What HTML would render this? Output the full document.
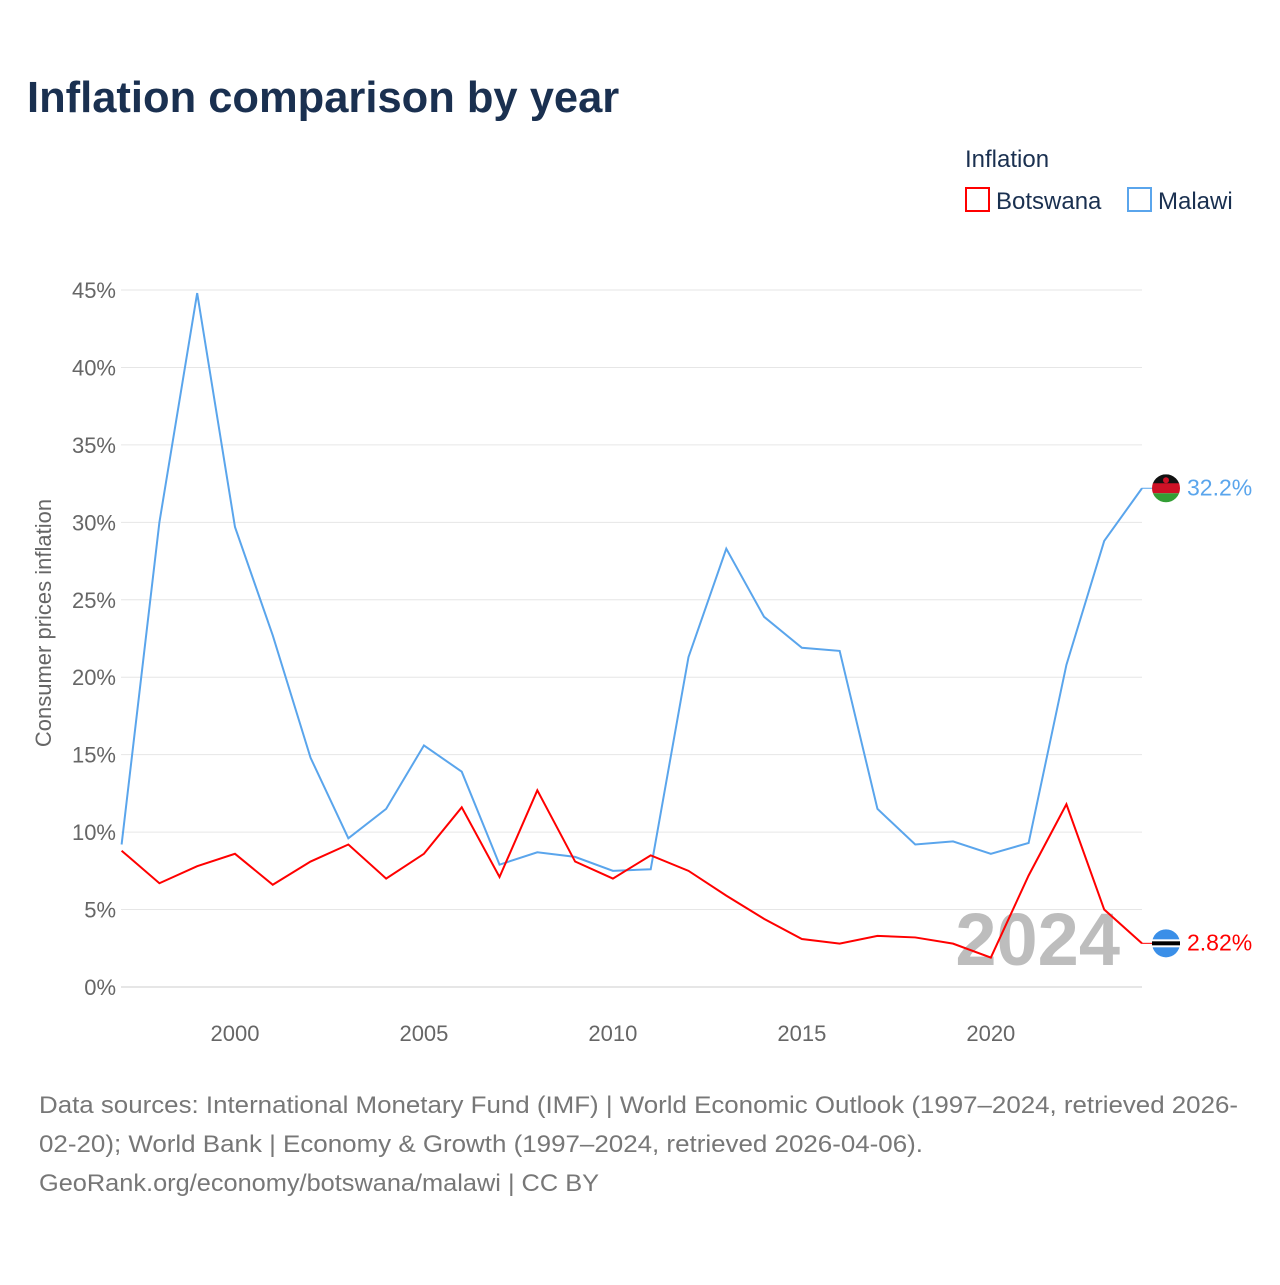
<!DOCTYPE html>
<html><head><meta charset="utf-8"><style>
body{margin:0;background:#fff;font-family:"Liberation Sans",sans-serif;}
</style></head><body>
<svg width="1280" height="1280" xmlns="http://www.w3.org/2000/svg" font-family="Liberation Sans, sans-serif">
<text x="27" y="112" font-size="43.5" font-weight="bold" fill="#1a3050">Inflation comparison by year</text>
<text x="965" y="167" font-size="24" fill="#1a3050">Inflation</text>
<g><rect x="966" y="188" width="23" height="23" fill="none" stroke="#ff0000" stroke-width="2"/><text x="996" y="209" font-size="24" fill="#1a3050">Botswana</text></g>
<g><rect x="1128" y="188" width="23" height="23" fill="none" stroke="#5aa5ec" stroke-width="2"/><text x="1158" y="209" font-size="24" fill="#1a3050">Malawi</text></g>
<g id="grid"></g>
<text x="0" y="0" transform="translate(51,623) rotate(-90)" text-anchor="middle" font-size="22" fill="#666">Consumer prices inflation</text>
<text x="1120" y="965" text-anchor="end" font-size="74" font-weight="bold" fill="#bdbdbd">2024</text>
<g id="series"></g>
<g font-size="24" fill="#777">
<text x="39" y="1113" textLength="1199" lengthAdjust="spacingAndGlyphs">Data sources: International Monetary Fund (IMF) | World Economic Outlook (1997–2024, retrieved 2026-</text>
<text x="39" y="1152" textLength="884" lengthAdjust="spacingAndGlyphs">02-20); World Bank | Economy &amp; Growth (1997–2024, retrieved 2026-04-06).</text>
<text x="39" y="1191" textLength="560" lengthAdjust="spacingAndGlyphs">GeoRank.org/economy/botswana/malawi | CC BY</text>
</g>
</svg>
<script>
const years=[1997,1998,1999,2000,2001,2002,2003,2004,2005,2006,2007,2008,2009,2010,2011,2012,2013,2014,2015,2016,2017,2018,2019,2020,2021,2022,2023,2024];
const malawi=[9.2,30.0,44.8,29.7,22.7,14.8,9.6,11.5,15.6,13.9,7.9,8.7,8.4,7.5,7.6,21.3,28.3,23.9,21.9,21.7,11.5,9.2,9.4,8.6,9.3,20.8,28.8,32.2];
const botswana=[8.8,6.7,7.8,8.6,6.6,8.1,9.2,7.0,8.6,11.6,7.1,12.7,8.1,7.0,8.5,7.5,5.9,4.4,3.1,2.8,3.3,3.2,2.8,1.9,7.2,11.8,5.0,2.82];
const yTicks=[0,5,10,15,20,25,30,35,40,45];
const xTicks=[2000,2005,2010,2015,2020];
const NS="http://www.w3.org/2000/svg";
const X=y=>121.6+(y-1997)*(1142-121.6)/27;
const Y=v=>987-v*(987-290)/45;
function mk(t,a,p){const e=document.createElementNS(NS,t);for(const k in a)e.setAttribute(k,a[k]);p.appendChild(e);return e;}
const g=document.getElementById('grid');
yTicks.forEach(v=>{
  const l=mk('line',{x1:121,x2:1142,y1:Y(v),y2:Y(v),stroke:v===0?'#ccc':'#e6e6e6','stroke-width':1},g);
  
  
  const t=mk('text',{x:116,y:Y(v)+8,'text-anchor':'end','font-size':22,fill:'#666'},g);
  t.textContent=v+'%';
  
  
});
xTicks.forEach(v=>{
  const t=mk('text',{x:X(v),y:1041,'text-anchor':'middle','font-size':22,fill:'#666'},g);
  t.textContent=v;
  
  
});
const s=document.getElementById('series');
function series(vals,col,name,label,flag){
  const p=mk('polyline',{points:vals.map((v,i)=>X(years[i])+','+Y(v)).join(' '),fill:'none',stroke:col,'stroke-width':2},s);
  
  
  const last=vals[vals.length-1],ly=Y(last);
  mk('polyline',{points:`1142,${ly} 1152,${ly}`,stroke:col,fill:'none','stroke-width':1},s);
  const fg=mk('g',{},s);
  
  
  const cx=1166,r=14;
  if(flag==='mw'){
    mk('clipPath',{id:'cm'},fg).appendChild(document.createElementNS(NS,'circle')).setAttribute('r',r);
    const cc=fg.querySelector('#cm circle');cc.setAttribute('cx',cx);cc.setAttribute('cy',ly);
    const gg=mk('g',{'clip-path':'url(#cm)'},fg);
    mk('rect',{x:cx-r,y:ly-r,width:28,height:10,fill:'#111'},gg);
    mk('rect',{x:cx-r,y:ly-r+9,width:28,height:10,fill:'#ce1126'},gg);
    mk('rect',{x:cx-r,y:ly-r+19,width:28,height:10,fill:'#339e35'},gg);
    mk('circle',{cx:cx,cy:ly-8,r:3,fill:'#ce1126'},gg);
  } else {
    mk('circle',{cx:cx,cy:ly,r:r,fill:'#3a8fe8'},fg);
    mk('rect',{x:cx-r,y:ly-4,width:28,height:8,fill:'#fff'},fg);
    mk('rect',{x:cx-r,y:ly-2,width:28,height:4,fill:'#000'},fg);
  }
  const t=mk('text',{x:1187,y:ly+7,'font-size':23,fill:col},s);
  t.textContent=label;
  
  
}
series(malawi,'#5aa5ec','malawi',malawi[malawi.length-1]+'%','mw');
series(botswana,'#ff0000','botswana',botswana[botswana.length-1]+'%','bw');
</script>
</body></html>
